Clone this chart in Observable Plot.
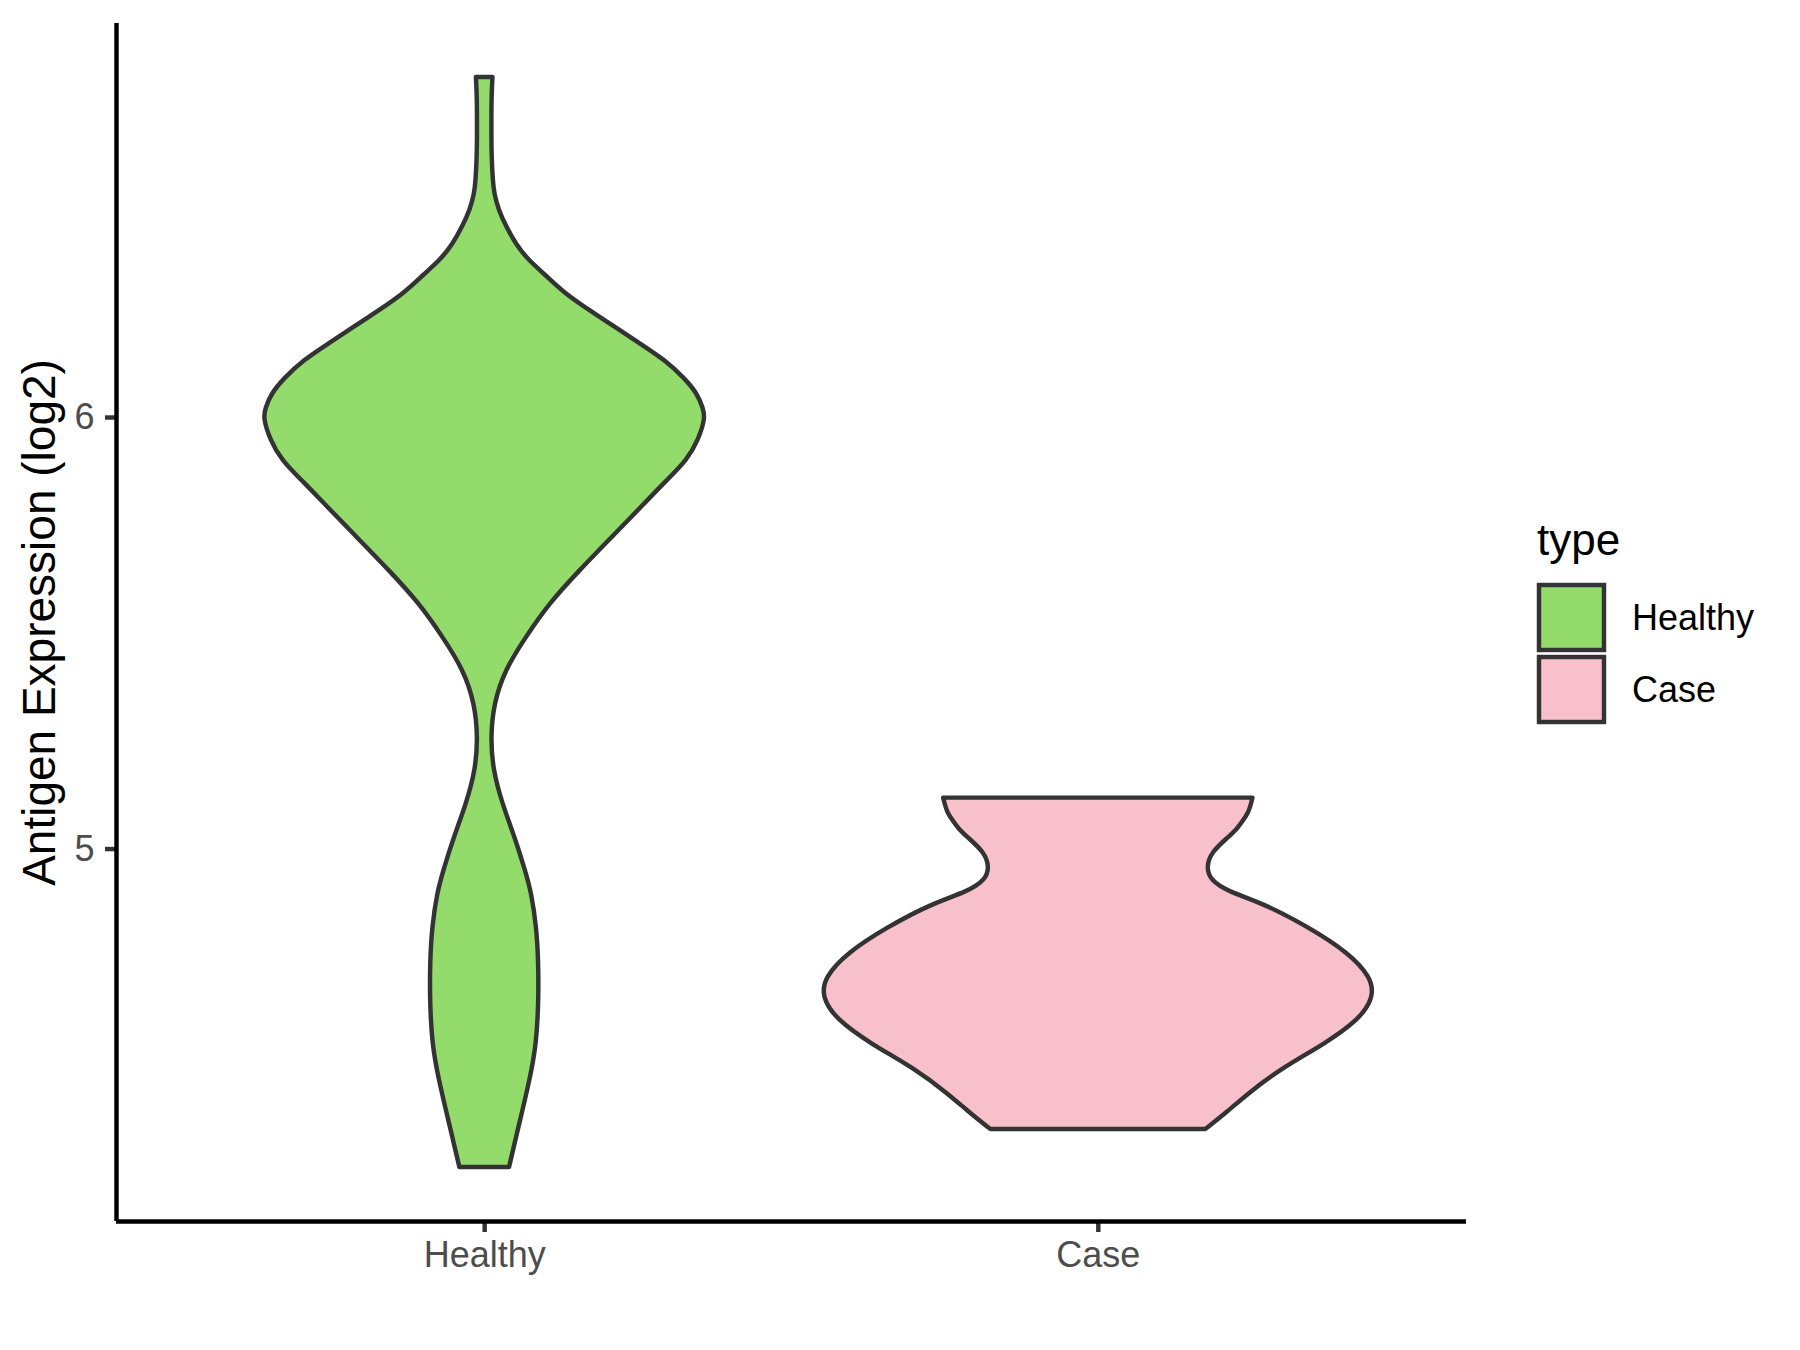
<!DOCTYPE html>
<html>
<head>
<meta charset="utf-8">
<script src="https://cdn.jsdelivr.net/npm/d3@7"></script>
<script src="https://cdn.jsdelivr.net/npm/@observablehq/plot@0.6"></script>
<style>
  html, body { margin: 0; padding: 0; background: #ffffff; }
  #wrap { position: relative; width: 1800px; height: 1350px; }
  #legend { position: absolute; left: 0; top: 0; pointer-events: none; }
</style>
</head>
<body>
<div id="wrap"></div>
<script>
// ---- data ----
const categories = ["Healthy", "Case"];
const fillColors = ["#93DB6B", "#F8C0CB"];
const yTicks = [5, 6];
const yTitle = "Antigen Expression (log2)";
const legendTitle = "type";

// violin outline: expression value and relative density (max = 1)
const healthyValue = [6.788, 6.75, 6.70, 6.65, 6.60, 6.55, 6.518, 6.48, 6.441, 6.40, 6.364, 6.33, 6.287, 6.25, 6.209, 6.17, 6.132, 6.09, 6.055, 6.02, 5.997, 5.95, 5.900, 5.85, 5.801, 5.722, 5.645, 5.569, 5.490, 5.414, 5.337, 5.258, 5.182, 5.105, 5.027, 4.950, 4.897, 4.818, 4.742, 4.649, 4.549, 4.470, 4.355, 4.262];
const healthyDensity = [0.030, 0.027, 0.026, 0.026, 0.027, 0.031, 0.036, 0.052, 0.080, 0.115, 0.160, 0.220, 0.291, 0.375, 0.473, 0.565, 0.655, 0.725, 0.771, 0.793, 0.800, 0.777, 0.735, 0.655, 0.582, 0.462, 0.345, 0.236, 0.150, 0.075, 0.035, 0.023, 0.032, 0.065, 0.110, 0.148, 0.171, 0.189, 0.196, 0.197, 0.189, 0.167, 0.124, 0.090];

const caseValue = [5.118, 5.10, 5.084, 5.066, 5.045, 5.027, 4.992, 4.957, 4.927, 4.900, 4.874, 4.818, 4.758, 4.702, 4.656, 4.603, 4.549, 4.487, 4.433, 4.387, 4.350];
const caseDensity = [0.560, 0.553, 0.545, 0.527, 0.503, 0.473, 0.411, 0.393, 0.407, 0.473, 0.596, 0.764, 0.909, 0.989, 1.000, 0.945, 0.825, 0.655, 0.545, 0.462, 0.389];

// ---- build table ----
const halfWidth = 0.45; // violin half-width (x units) at max density
const rows = [];
healthyValue.forEach((v, i) => rows.push({type: "Healthy", pos: 1, value: v, dens: healthyDensity[i]}));
caseValue.forEach((v, i) => rows.push({type: "Case", pos: 2, value: v, dens: caseDensity[i]}));

const yMin = 4.137, yMax = 6.913;
const font = "'Liberation Sans', Arimo, Arial, sans-serif";

const chart = Plot.plot({
  width: 1800,
  height: 1350,
  marginLeft: 116,
  marginRight: 334,
  marginTop: 23,
  marginBottom: 129,
  style: {fontFamily: font, background: "#ffffff", color: "#4D4D4D"},
  x: {domain: [0.4, 2.6], axis: null},
  y: {domain: [yMin, yMax], axis: null},
  color: {domain: categories, range: fillColors},
  marks: [
    Plot.areaX(rows, {
      y: "value",
      x1: d => d.pos - d.dens * halfWidth,
      x2: d => d.pos + d.dens * halfWidth,
      z: "type",
      fill: "type",
      stroke: "#333333",
      strokeWidth: 4.45,
      strokeLinejoin: "round",
      curve: "basis"
    }),
    Plot.axisY(yTicks, {
      anchor: "left",
      tickSize: 11,
      tickPadding: 11,
      stroke: "#333333",
      strokeWidth: 4.45,
      fill: "#4D4D4D",
      fontSize: 36,
      tickFormat: d => String(d),
      label: null
    }),
    Plot.axisX([1, 2], {
      anchor: "bottom",
      tickSize: 11,
      tickPadding: 9,
      stroke: "#333333",
      strokeWidth: 4.45,
      fill: "#4D4D4D",
      fontSize: 36,
      tickFormat: d => categories[d - 1],
      label: null
    }),
    Plot.ruleX([0.4], {y1: yMin, y2: yMax, stroke: "#000000", strokeWidth: 4.45}),
    Plot.ruleY([yMin], {x1: 0.4, x2: 2.6, stroke: "#000000", strokeWidth: 4.45}),
    Plot.text([yTitle], {
      frameAnchor: "left",
      textAnchor: "middle",
      rotate: -90,
      dx: -76,
      fontSize: 46,
      fill: "#000000"
    })
  ]
});

const wrap = document.getElementById("wrap");
wrap.appendChild(chart);

// ---- legend (drawn to the right of the plot) ----
const svg = d3.select(wrap).append("svg")
  .attr("id", "legend")
  .attr("width", 1800).attr("height", 1350)
  .style("font-family", font);

svg.append("text")
  .attr("x", 1537).attr("y", 555)
  .attr("font-size", 44).attr("fill", "#000000")
  .text(legendTitle);

categories.forEach((c, i) => {
  const y0 = 585 + i * 72;
  svg.append("rect")
    .attr("x", 1539).attr("y", y0)
    .attr("width", 65).attr("height", 65)
    .attr("fill", fillColors[i])
    .attr("stroke", "#333333")
    .attr("stroke-width", 4.45);
  svg.append("text")
    .attr("x", 1632).attr("y", y0 + 32.5)
    .attr("dy", "0.35em")
    .attr("font-size", 36).attr("fill", "#000000")
    .text(c);
});
</script>
</body>
</html>
